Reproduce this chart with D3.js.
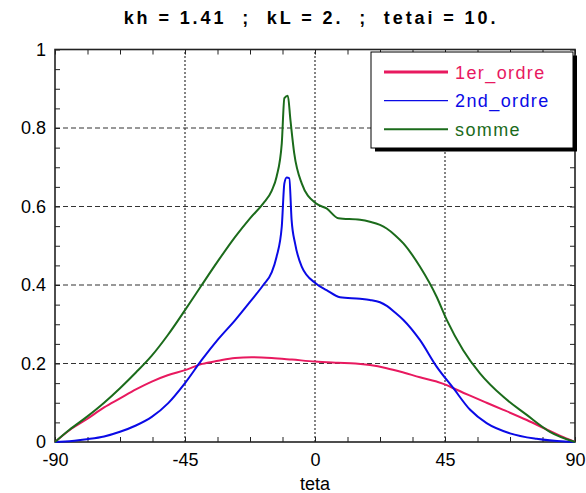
<!DOCTYPE html>
<html lang="fr">
<head>
  <meta charset="UTF-8">
  <title>kh = 1.41</title>
  <style>
    body { margin: 0; background: #fff; font-family: "Liberation Sans", Arial, sans-serif; }
    svg text { fill: #000; }
  </style>
  <script src="https://cdn.jsdelivr.net/npm/d3@7/dist/d3.min.js"></script>
</head>
<body>
<script>
// values: [teta, value]
var firstOrder = [
  [-90, 0], [-85, 0.030], [-79, 0.058], [-73, 0.088], [-67.5, 0.111], [-62, 0.134],
  [-56.5, 0.154], [-51, 0.170], [-45, 0.183], [-39, 0.199], [-33.5, 0.207], [-27.7, 0.214],
  [-22, 0.216], [-15, 0.214], [-8, 0.210], [0, 0.205], [8, 0.202], [14, 0.200], [19, 0.196],
  [24.8, 0.188], [30.6, 0.177], [36.3, 0.165], [42.1, 0.154], [45.6, 0.145], [47.9, 0.137],
  [53.7, 0.118], [59.4, 0.100], [65.2, 0.082], [73.3, 0.056], [81.3, 0.028], [86, 0.012], [90, 0]
];
var secondOrder = [
  [-90, 0], [-86.5, 0.001], [-79, 0.007], [-73, 0.014], [-67.5, 0.026], [-62, 0.042],
  [-56.5, 0.064], [-50.8, 0.099], [-45, 0.150], [-39.2, 0.209], [-33.5, 0.262], [-27.7, 0.310],
  [-22.5, 0.357], [-17.9, 0.400], [-15, 0.432], [-13.3, 0.472], [-11.5, 0.549], [-10.6, 0.659],
  [-9.8, 0.674], [-8.9, 0.672], [-8.1, 0.566], [-6.9, 0.506], [-4.6, 0.447], [0.3, 0.404],
  [4, 0.387], [8.65, 0.369], [15.6, 0.365], [19, 0.362], [22.5, 0.356], [25, 0.346],
  [27.7, 0.330], [30.6, 0.311], [36.3, 0.260], [42.1, 0.192], [47.9, 0.137], [53.7, 0.082],
  [59.4, 0.048], [67.5, 0.022], [76.7, 0.008], [86.5, 0.001], [90, 0]
];
var somme = [
  [-90, 0], [-85, 0.031], [-79, 0.064], [-73, 0.100], [-67.5, 0.137], [-62, 0.177],
  [-56.5, 0.220], [-51, 0.272], [-45, 0.336], [-39.2, 0.400], [-33.5, 0.462], [-27.7, 0.522],
  [-22.5, 0.570], [-17.9, 0.608], [-15, 0.640], [-13.3, 0.676], [-11.5, 0.761], [-10.6, 0.876],
  [-9.4, 0.882], [-8.5, 0.820], [-7.2, 0.736], [-4.6, 0.659], [0.3, 0.608], [4, 0.595],
  [8.1, 0.570], [15.6, 0.566], [19, 0.561], [22.5, 0.553], [24.8, 0.544], [27.7, 0.527],
  [30.6, 0.506], [36.3, 0.447], [42.1, 0.370], [45.6, 0.311], [51.3, 0.234], [57.1, 0.175],
  [65.2, 0.115], [73.3, 0.069], [81.3, 0.026], [90, 0]
];

var seriesNames = ["1er_ordre", "2nd_ordre", "somme"];
var seriesColors = ["#e8195f", "#0a0ae6", "#1b6b1b"];
var xTicks = [-90, -45, 0, 45, 90];
var yTicks = [0, 0.2, 0.4, 0.6, 0.8, 1];
var title = "kh = 1.41  ;  kL = 2.  ;  tetai = 10.";

var W = 586, H = 493;
var x = d3.scaleLinear().domain([-90, 90]).range([55, 575]);
var y = d3.scaleLinear().domain([0, 1]).range([442, 49.5]);

var svg = d3.select("body").append("svg").attr("width", W).attr("height", H);

// grid
svg.append("g").selectAll("line").data([-45, 0, 45]).enter().append("line")
  .attr("x1", function(d) { return x(d); }).attr("x2", function(d) { return x(d); })
  .attr("y1", y(0)).attr("y2", y(1))
  .attr("stroke", "#333").attr("stroke-width", 1.2).attr("stroke-dasharray", "2,2");
svg.append("g").selectAll("line").data([0.2, 0.4, 0.6, 0.8]).enter().append("line")
  .attr("y1", function(d) { return y(d); }).attr("y2", function(d) { return y(d); })
  .attr("x1", x(-90)).attr("x2", x(90))
  .attr("stroke", "#333").attr("stroke-width", 1.2).attr("stroke-dasharray", "5,3");

// minor ticks, pointing inwards on all four sides
var xMinor = d3.range(-90, 90.01, 11.25);
var yMinor = d3.range(0, 1.001, 0.05);
function noText(g) { g.selectAll("text").remove(); g.select(".domain").remove(); g.selectAll("line").attr("stroke", "#222"); }
svg.append("g").attr("transform", "translate(0," + y(0) + ")")
  .call(d3.axisBottom(x).tickValues(xMinor).tickSize(-5)).call(noText);
svg.append("g").attr("transform", "translate(0," + y(1) + ")")
  .call(d3.axisTop(x).tickValues(xMinor).tickSize(-5)).call(noText);
svg.append("g").attr("transform", "translate(" + x(-90) + ",0)")
  .call(d3.axisLeft(y).tickValues(yMinor).tickSize(-5)).call(noText);
svg.append("g").attr("transform", "translate(" + x(90) + ",0)")
  .call(d3.axisRight(y).tickValues(yMinor).tickSize(-5)).call(noText);

// frame
svg.append("rect").attr("x", x(-90)).attr("y", y(1))
  .attr("width", x(90) - x(-90)).attr("height", y(0) - y(1))
  .attr("fill", "none").attr("stroke", "#222").attr("stroke-width", 1.6);

// tick labels
var xAxis = svg.append("g").attr("transform", "translate(0," + y(0) + ")")
  .call(d3.axisBottom(x).tickValues(xTicks).tickSize(0).tickPadding(11).tickFormat(function(d) { return String(d); }));
xAxis.select(".domain").remove();
xAxis.selectAll("text").style("font-size", "18px").style("font-family", "Liberation Sans, Arial, sans-serif");

var yAxis = svg.append("g").attr("transform", "translate(" + x(-90) + ",0)")
  .call(d3.axisLeft(y).tickValues(yTicks).tickSize(0).tickPadding(9).tickFormat(function(d) { return d === 0 || d === 1 ? d : d.toFixed(1); }));
yAxis.select(".domain").remove();
yAxis.selectAll("text").style("font-size", "18px").style("font-family", "Liberation Sans, Arial, sans-serif");

svg.append("text").attr("x", x(0)).attr("y", 490).attr("text-anchor", "middle")
  .style("font-size", "18px").text("teta");

svg.append("text").attr("x", 311).attr("y", 24).attr("text-anchor", "middle")
  .style("font-size", "18px").style("font-weight", "bold").style("letter-spacing", "2.9px")
  .style("white-space", "pre").text(title);

// curves
var line = d3.line()
  .x(function(d) { return x(d[0]); })
  .y(function(d) { return y(d[1]); })
  .curve(d3.curveMonotoneX);

var allSeries = [firstOrder, secondOrder, somme];
svg.append("g").selectAll("path").data(allSeries).enter().append("path")
  .attr("d", line)
  .attr("fill", "none")
  .attr("stroke", function(d, i) { return seriesColors[i]; })
  .attr("stroke-width", 2)
  .attr("stroke-linejoin", "round");

// legend
var legend = svg.append("g");
legend.append("rect").attr("x", 375).attr("y", 55.5).attr("width", 202).attr("height", 96).attr("fill", "#000");
legend.append("rect").attr("x", 371).attr("y", 52).attr("width", 202).attr("height", 96)
  .attr("fill", "#fff").attr("stroke", "#000").attr("stroke-width", 1);
var legendWidths = [3, 1.2, 2];
seriesNames.forEach(function(name, i) {
  var ly = 72 + i * 28.6;
  legend.append("line").attr("x1", 384).attr("x2", 448).attr("y1", ly).attr("y2", ly)
    .attr("stroke", seriesColors[i]).attr("stroke-width", legendWidths[i]);
  legend.append("text").attr("x", 455).attr("y", ly + 6.5)
    .style("font-size", "18px").style("letter-spacing", "1.4px")
    .style("fill", seriesColors[i]).text(name);
});
</script>
</body>
</html>
